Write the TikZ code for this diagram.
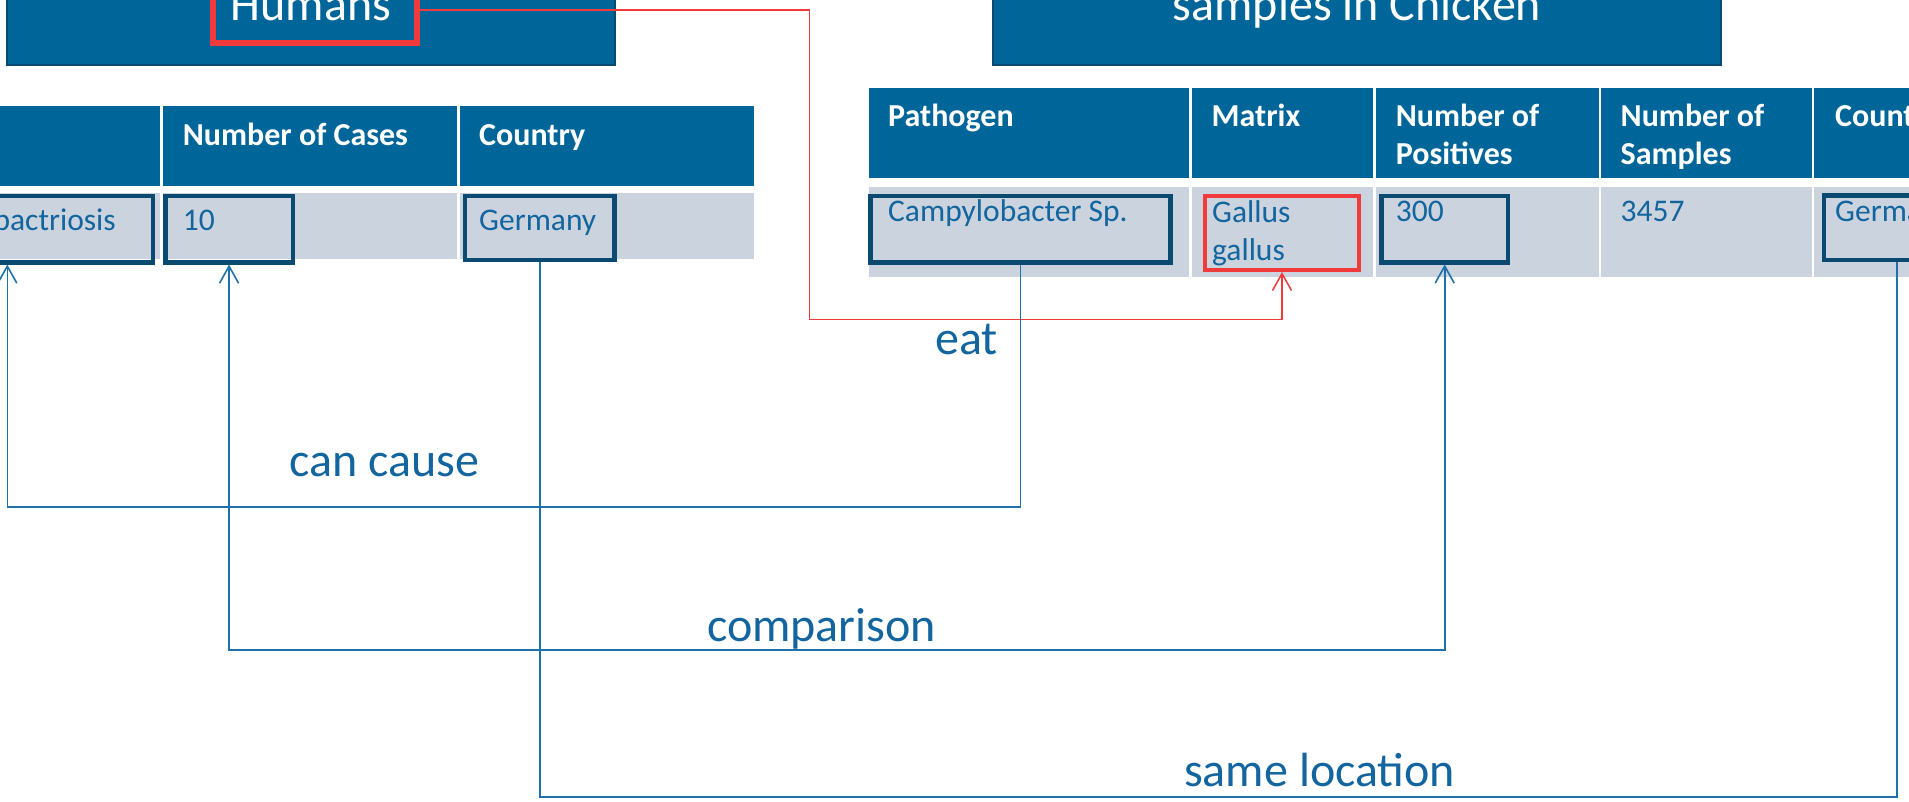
\documentclass[tikz,border=0pt]{standalone}
\usepackage{fontspec}
\setmainfont{Carlito}
\usetikzlibrary{arrows.meta}
\definecolor{hdrblue}{RGB}{0,102,153}
\definecolor{hdrborder}{RGB}{10,74,114}
\definecolor{rowgray}{RGB}{203,211,222}
\definecolor{boxdark}{RGB}{10,74,112}
\definecolor{txtblue}{RGB}{18,101,158}
\definecolor{lineblue}{RGB}{31,113,170}
\definecolor{hired}{RGB}{240,58,60}
\begin{document}
\begin{tikzpicture}[x=1pt,y=-1pt,
  titlebox/.style={fill=hdrblue,draw=hdrborder,line width=2pt},
  hdrcell/.style={fill=hdrblue},
  datacell/.style={fill=rowgray},
  keybox/.style={draw=boxdark,line width=4.4pt,inner sep=0pt,anchor=north west},
  redbox/.style={draw=hired,inner sep=0pt,anchor=north west},
  titletext/.style={text=white,inner sep=0pt,font=\fontsize{48}{58}\selectfont},
  hdrtext/.style={text=white,inner sep=0pt,anchor=base west,font=\fontsize{32}{38}\selectfont\bfseries},
  celltext/.style={text=txtblue,inner sep=0pt,anchor=base west,font=\fontsize{31.5}{38}\selectfont},
  lbl/.style={text=txtblue,inner sep=0pt,anchor=base west,font=\fontsize{48}{58}\selectfont},
  link/.style={draw=lineblue,line width=1.6pt},
  eatlink/.style={draw=hired,line width=1.5pt},
  tip/.tip={Straight Barb[length=17pt,width=19pt]}
]
\useasboundingbox (0,0) rectangle (1909,801);
\clip (0,0) rectangle (1909,801);

% title boxes
\path[titlebox] (7,-30) rectangle (615,65);
\path[titlebox] (993,-30) rectangle (1721,65);
\node[titletext,anchor=base] (humans) at (311,20.7) {Humans};
\node[titletext,anchor=base] (chicken) at (1357,20.7) {samples in Chicken};
\node[redbox,line width=5.5pt,minimum width=204pt,minimum height=60pt] (humansbox) at (210,-20) {};

% left table
\fill[hdrcell] (-10,106) rectangle (160.4,185.5);
\fill[hdrcell] (163.3,106) rectangle (457,185.5);
\fill[hdrcell] (459.5,106) rectangle (754,185.5);
\fill[datacell] (-10,193.3) rectangle (160.4,259.3);
\fill[datacell] (163.3,193.3) rectangle (457,259.3);
\fill[datacell] (459.5,193.3) rectangle (754,259.3);
\node[hdrtext] (lh2) at (182.7,145) {Number of Cases};
\node[hdrtext] (lh3) at (479,145) {Country};
\node[keybox,minimum width=170.5pt,minimum height=66.2pt] (bact) at (-20,193.9) {};
\node[keybox,minimum width=127.3pt,minimum height=66.2pt] (ten) at (163.2,193.9) {};
\node[keybox,minimum width=149.7pt,minimum height=63.9pt] (germL) at (462.7,193.9) {};
\node[celltext,anchor=base east] (bacttext) at (116,230) {Campylobactriosis};
\node[celltext] (tentext) at (182.7,230) {10};
\node[celltext] (germLtext) at (479,230) {Germany};

% right table
\fill[hdrcell] (868.6,88.3) rectangle (1189,178);
\fill[hdrcell] (1191.7,88.3) rectangle (1373.3,178);
\fill[hdrcell] (1376,88.3) rectangle (1598.7,178);
\fill[hdrcell] (1601.4,88.3) rectangle (1811.7,178);
\fill[hdrcell] (1814.3,88.3) rectangle (1930,178);
\fill[datacell] (868.6,186.7) rectangle (1189,276.7);
\fill[datacell] (1191.7,186.7) rectangle (1373.3,276.7);
\fill[datacell] (1376,186.7) rectangle (1598.7,276.7);
\fill[datacell] (1601.4,186.7) rectangle (1811.7,276.7);
\fill[datacell] (1814.3,186.7) rectangle (1930,276.7);
\node[hdrtext] (rh1) at (888,126.7) {Pathogen};
\node[hdrtext] (rh2) at (1211.5,126.7) {Matrix};
\node[hdrtext] (rh3a) at (1395.6,126.7) {Number of};
\node[hdrtext] (rh3b) at (1395.6,164.2) {Positives};
\node[hdrtext] (rh4a) at (1620.5,126.7) {Number of};
\node[hdrtext] (rh4b) at (1620.5,164.2) {Samples};
\node[hdrtext] (rh5) at (1835,126.7) {Country};
\node[keybox,minimum width=300.2pt,minimum height=66.2pt] (campy) at (868.2,193.9) {};
\node[keybox,minimum width=126.6pt,minimum height=66.2pt] (three) at (1379.2,193.9) {};
\node[keybox,minimum width=138.5pt,minimum height=64.6pt] (germR) at (1821.5,193.2) {};
\node[redbox,line width=4pt,minimum width=154pt,minimum height=74.3pt] (gallusbox) at (1203,193.7) {};
\node[celltext] (campytext) at (888,221.7) {Campylobacter Sp.};
\node[celltext] (gallus1) at (1212,222.3) {Gallus};
\node[celltext] (gallus2) at (1212,260.7) {gallus};
\node[celltext] (threetext) at (1395.6,221.7) {300};
\node[celltext] (samplestext) at (1620.5,221.7) {3457};
\node[celltext] (germRtext) at (1835,221.7) {Germany};

% connector helpers
\coordinate (eatrow) at (0,10);
\coordinate (eatbend) at (809.6,319.7);
\coordinate (ccbend) at (7.3,507);
\coordinate (cmprow) at (0,650);
\coordinate (slbend) at (1896.7,797);

% connectors
\draw[eatlink,-tip] (humansbox.east |- eatrow) -| (eatbend) -| (gallusbox.south);
\draw[link,-tip] (campy.south) |- (ccbend) -- (ccbend |- bact.south);
\draw[link,tip-tip] (ten.south) |- (cmprow -| three.south) -- (three.south);
\draw[link] (germL.south) |- (slbend) -- (slbend |- germR.south);

% labels
\node[lbl] (eatlbl) at (935,354.4) {eat};
\node[lbl] (cclbl) at (289,476) {can cause};
\node[lbl] (cmplbl) at (707,641) {comparison};
\node[lbl] (sllbl) at (1184,786) {same location};
\end{tikzpicture}
\end{document}
